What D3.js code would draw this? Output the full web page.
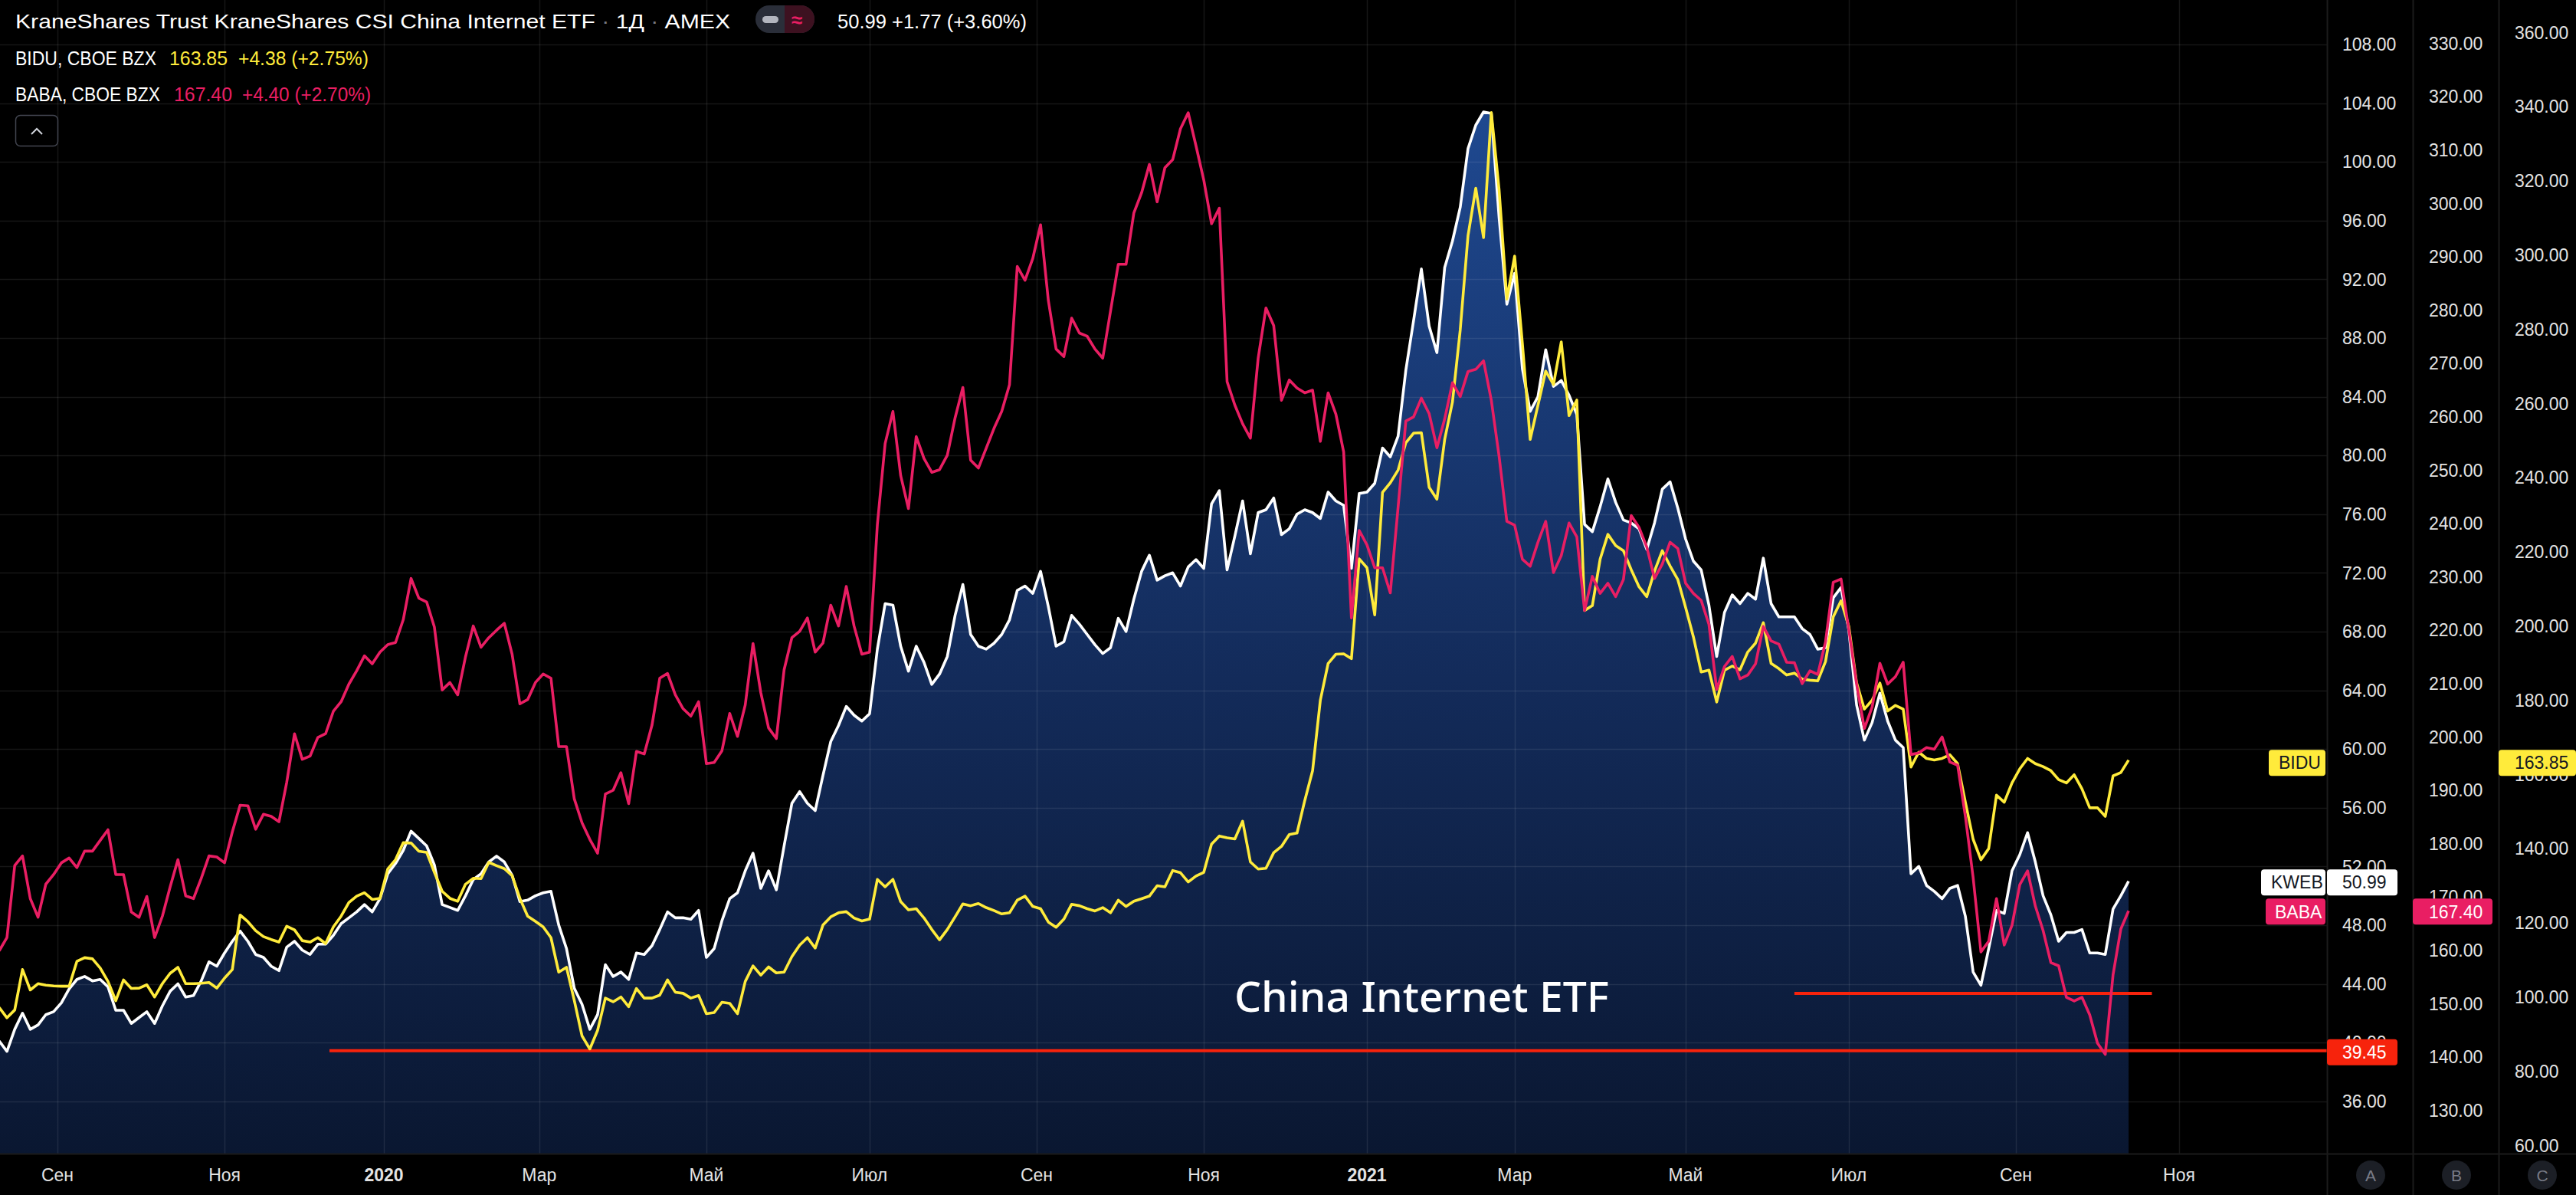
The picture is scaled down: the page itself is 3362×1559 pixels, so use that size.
<!DOCTYPE html>
<html><head><meta charset="utf-8">
<script src="https://cdn.jsdelivr.net/npm/d3@7"></script>
<style>html,body{margin:0;padding:0;background:#000;overflow:hidden}svg{display:block}</style>
</head><body>
<svg id="chart" width="3362" height="1559"></svg>
<script>
// ---------- DATA ----------
const holidays = ["2019-09-02","2019-11-28","2019-12-25","2020-01-01","2020-01-20","2020-02-17","2020-04-10","2020-05-25","2020-07-03","2020-09-07","2020-11-26","2020-12-25","2021-01-01","2021-01-18","2021-02-15","2021-04-02","2021-05-31","2021-07-05","2021-09-06","2021-11-25"];
const sampleStart = "2019-08-12";   // first sample, then every 2nd trading day
const sampleStep = 2;
const calendarEnd = "2021-12-01";

const kweb = [40.1,39.4,40.9,42.0,40.9,41.2,41.9,42.1,42.7,43.65,44.3,44.5,44.2,44.3,43.8,42.2,42.2,41.3,41.7,42.1,
41.3,42.5,43.5,44.0,43.1,43.2,44.2,45.5,45.2,46.1,46.9,47.6,46.9,46.0,45.8,45.2,44.9,46.5,46.9,46.3,
46.0,46.7,46.7,47.3,48.1,48.5,48.9,49.4,48.9,49.8,51.5,52.2,53.1,54.4,53.9,53.4,52.1,49.4,49.2,49.0,
50.0,51.1,51.5,52.3,52.7,52.3,51.4,49.6,49.7,50.0,50.2,50.3,48.0,46.4,43.7,42.6,40.9,41.9,45.3,44.5,
44.8,44.3,46.1,46.0,46.6,47.7,48.9,48.5,48.5,48.4,49.0,45.8,46.4,48.3,49.8,50.2,51.7,52.9,50.5,51.7,
50.4,53.4,56.3,57.1,56.3,55.8,58.2,60.5,61.6,62.9,62.3,61.9,62.4,66.8,69.9,69.8,67.0,65.3,67.0,65.9,
64.4,65.1,66.3,69.1,71.2,67.8,67.0,66.8,67.2,67.8,68.8,70.8,71.1,70.6,72.1,69.7,67.0,67.3,69.1,68.5,
67.8,67.1,66.5,66.9,68.9,68.0,70.2,72.1,73.2,71.5,71.8,72.0,71.1,72.4,72.9,72.3,76.7,77.6,72.2,74.5,
76.9,73.3,76.1,76.3,77.1,74.6,75.0,76.0,76.3,76.1,75.7,77.5,76.9,76.6,72.3,77.4,77.5,78.1,80.5,79.9,
81.3,85.8,89.2,92.7,88.8,87.0,92.8,94.6,96.9,100.9,102.5,103.4,103.3,96.2,90.3,92.4,85.9,83.0,84.0,87.2,
84.7,85.1,84.1,82.8,75.3,74.8,76.5,78.4,76.8,75.6,75.4,75.0,73.6,75.4,77.7,78.2,76.4,74.3,72.8,72.2,
69.8,66.3,69.3,70.5,69.9,70.6,70.2,73.0,69.9,69.0,69.0,69.0,68.2,67.8,66.8,66.9,70.3,71.0,68.1,63.0,
60.6,61.8,63.8,61.9,60.6,60.1,51.5,52.0,50.7,50.3,49.8,50.5,50.7,48.6,44.8,43.9,46.4,49.0,48.8,51.7,
52.8,54.3,52.3,50.0,48.7,46.9,47.5,47.5,47.7,46.1,46.1,46.0,49.1,50.0,50.99];

const bidu = [97.2,94.4,96.5,107.4,101.9,103.6,103.2,103.0,102.9,102.9,109.6,110.6,110.3,107.8,104.2,99.0,104.6,102.3,102.4,103.3,
100.0,103.6,106.4,108.0,103.6,103.6,103.7,103.9,102.4,105.1,107.4,122.1,120.3,117.9,116.3,115.5,114.8,119.1,118.1,115.2,
114.8,116.0,114.4,118.9,121.8,125.5,127.2,128.1,126.3,126.6,134.5,137.0,141.6,141.5,139.3,139.0,133.6,128.5,126.6,125.8,
130.4,132.0,131.9,136.3,135.4,134.6,132.7,126.6,121.8,120.4,118.9,116.0,106.7,108.0,99.1,89.5,86.0,91.0,99.7,98.7,
100.0,97.4,102.3,99.7,99.7,100.5,104.6,101.3,101.0,99.7,100.4,95.5,95.8,98.6,98.3,95.5,104.2,108.4,105.9,108.1,
106.5,106.7,110.9,114.0,116.0,113.2,119.4,121.6,122.7,123.0,121.3,120.5,121.0,131.7,129.7,131.7,125.7,123.5,123.8,121.3,
118.2,115.4,118.2,121.6,125.1,124.6,125.2,124.1,123.3,122.4,122.7,126.1,127.2,124.4,123.8,120.2,118.8,121.0,125.0,124.6,
123.8,123.2,124.1,122.7,126.1,124.4,125.8,126.5,127.2,130.0,129.7,134.1,133.5,131.0,132.6,133.6,141.2,143.4,142.9,142.6,
147.4,136.4,134.5,134.7,138.9,140.6,143.8,144.2,153.0,161.0,180.0,189.9,192.4,192.5,191.2,218.1,215.7,203.0,236.0,238.6,
242.0,249.4,252.0,252.1,237.4,234.2,250.3,260.4,279.8,305.2,318.0,304.7,338.4,317.6,288.1,299.7,276.1,250.3,259.5,268.7,
265.1,276.6,256.7,260.9,204.2,205.5,218.0,224.7,221.7,220.3,215.2,210.6,207.9,214.8,220.3,216.2,212.5,205.0,197.1,187.6,
188.1,179.5,188.1,189.2,188.2,193.0,195.4,200.9,189.9,188.5,186.8,187.3,185.7,185.4,185.2,190.4,202.5,206.8,199.9,184.7,
177.6,180.0,184.6,177.1,178.6,177.6,162.0,166.0,164.3,163.9,164.3,165.3,162.9,152.5,142.5,137.0,140.0,154.4,152.5,157.7,
161.5,164.3,162.9,162.1,161.0,158.6,157.7,159.9,156.1,151.0,151.0,148.7,159.6,160.5,163.85];

const baba = [159.9,162.4,175.9,177.7,169.7,166.2,172.4,174.2,176.4,177.3,175.5,178.6,178.6,180.6,182.6,174.2,174.2,167.2,166.2,170.1,
162.4,166.4,171.9,177.0,170.2,169.7,173.5,177.7,177.5,176.4,182.2,187.2,187.1,182.7,185.5,185.1,184.1,191.5,200.6,195.8,
196.4,199.9,200.6,204.8,206.6,209.9,212.4,215.2,213.7,215.9,217.3,217.7,222.0,229.7,226.0,225.3,220.6,208.8,210.2,207.9,
215.0,220.8,216.8,218.6,220.0,221.3,215.5,206.2,207.0,210.2,211.8,211.0,198.2,198.2,188.4,183.9,180.8,178.2,189.3,190.0,
193.3,187.5,197.3,196.8,202.2,211.0,211.9,207.9,205.3,203.9,206.6,195.0,195.2,197.4,204.4,200.1,206.0,217.5,208.3,201.7,
199.7,212.6,218.6,219.8,222.3,215.9,217.6,224.7,220.8,228.2,220.8,215.5,215.9,239.8,255.0,261.0,249.0,242.8,256.3,252.2,
249.6,250.1,252.8,259.8,265.5,251.9,250.4,254.1,257.8,261.0,266.0,288.2,285.6,289.7,296.0,281.8,272.7,271.3,278.5,275.7,
275.1,272.7,271.0,279.8,288.6,288.6,298.2,302.0,307.3,300.3,306.7,308.2,314.0,317.0,310.8,304.4,296.2,299.1,266.6,262.2,
258.7,256.0,271.0,280.4,277.1,263.1,266.9,265.4,264.5,265.0,255.4,264.5,260.5,253.4,222.3,238.7,236.0,231.7,231.7,227.0,
243.0,259.2,260.0,263.5,260.6,254.2,259.6,266.4,263.8,268.5,268.9,270.5,263.1,252.6,240.4,239.7,233.3,232.0,236.5,240.4,
230.8,234.0,240.1,237.5,223.7,230.1,226.9,228.8,226.3,229.5,241.5,239.3,235.6,229.7,232.4,236.5,235.3,228.8,226.9,225.6,
221.1,208.9,213.2,215.1,210.9,211.6,213.7,220.7,218.0,217.4,214.0,213.9,210.0,212.4,211.7,217.8,229.0,229.6,220.1,209.9,
201.6,205.6,213.8,209.9,211.3,214.0,196.7,197.0,198.0,197.7,200.0,195.3,194.7,185.1,173.6,159.7,161.7,169.7,161.0,164.7,
172.3,174.9,168.3,163.7,157.7,157.1,151.2,150.5,151.2,147.9,142.6,140.5,155.4,164.0,167.40];

const kwebTicks = [36,40,44,48,52,56,60,64,68,72,76,80,84,88,92,96,100,104,108];
const babaTicks = [130,140,150,160,170,180,190,200,210,220,230,240,250,260,270,280,290,300,310,320,330];
const biduTicks = [60,80,100,120,140,160,180,200,220,240,260,280,300,320,340,360];
const monthKeys = ["2019-09","2019-11","2020-01","2020-03","2020-05","2020-07","2020-09","2020-11","2021-01","2021-03","2021-05","2021-07","2021-09","2021-11"];
const monthNames = ["Сен","Ноя","2020","Мар","Май","Июл","Сен","Ноя","2021","Мар","Май","Июл","Сен","Ноя"];
const yearKeys = ["2020-01","2021-01"];
const levelLines = [{value:39.45, from:"2019-12-11", to:null, label:"39.45"},
                    {value:43.35, from:"2021-06-11", to:"2021-10-21", label:null}];

// ---------- SETUP ----------
const W = 3362, H = 1559;
const plotR = 3037, plotB = 1505;
const svg = d3.select("#chart");
const parse = d3.utcParse("%Y-%m-%d"), fmt = d3.utcFormat("%Y-%m-%d");
const hol = new Set(holidays);
const days = d3.utcDays(parse(sampleStart), parse(calendarEnd))
  .filter(d => { const w = d.getUTCDay(); return w > 0 && w < 6 && !hol.has(fmt(d)); });
const idxOf = new Map(days.map((d,i)=>[fmt(d), i]));
const firstOfMonth = key => days.findIndex(d => fmt(d).startsWith(key));

const x = d3.scaleLinear().domain([idxOf.get("2019-09-03"), idxOf.get("2021-09-01")]).range([75, 2631]);
const yA = d3.scaleLinear().domain([36,108]).range([1436.7, 57.9]);
const yB = d3.scaleLinear().domain([130,330]).range([1448.6, 56.6]);
const yC = d3.scaleLinear().domain([60,360]).range([1494.3, 42.3]);

const sampleIdx = kweb.map((_,i)=> i*sampleStep);
const font = "'Liberation Sans', Arial, sans-serif";

svg.append("rect").attr("width",W).attr("height",H).attr("fill","#000");

const defs = svg.append("defs");
defs.append("clipPath").attr("id","plotClip").append("rect").attr("x",0).attr("y",0).attr("width",plotR).attr("height",plotB);
const grad = defs.append("linearGradient").attr("id","areaGrad").attr("gradientUnits","userSpaceOnUse")
  .attr("x1",0).attr("x2",0).attr("y1",130).attr("y2",plotB);
grad.append("stop").attr("offset","0").attr("stop-color","#1f4991");
grad.append("stop").attr("offset","0.55").attr("stop-color","#132b5a");
grad.append("stop").attr("offset","1").attr("stop-color","#0a1731");

const plot = svg.append("g").attr("clip-path","url(#plotClip)");

// area under KWEB
plot.append("path").datum(kweb)
  .attr("d", d3.area().x((d,i)=>x(sampleIdx[i])).y0(plotB).y1(d=>yA(d)))
  .attr("fill","url(#areaGrad)");

// grid
const grid = plot.append("g").attr("stroke","rgba(255,255,255,0.085)").attr("stroke-width",1.5);
grid.selectAll("line.h").data(kwebTicks).join("line")
  .attr("x1",0).attr("x2",plotR).attr("y1",d=>Math.round(yA(d))+0.5).attr("y2",d=>Math.round(yA(d))+0.5);
grid.selectAll("line.v").data(monthKeys).join("line")
  .attr("y1",0).attr("y2",plotB).attr("x1",d=>Math.round(x(firstOfMonth(d)))+0.5).attr("x2",d=>Math.round(x(firstOfMonth(d)))+0.5);

// level lines
plot.selectAll("line.lvl").data(levelLines).join("line")
  .attr("x1",d=>x(idxOf.get(d.from))).attr("x2",d=> d.to ? x(idxOf.get(d.to)) : plotR)
  .attr("y1",d=>yA(d.value)).attr("y2",d=>yA(d.value))
  .attr("stroke","#f7230c").attr("stroke-width",4);

// lines
const mkLine = (scale) => d3.line().x((d,i)=>x(sampleIdx[i])).y(d=>scale(d));
plot.append("path").datum(kweb).attr("d",mkLine(yA)).attr("fill","none").attr("stroke","#ffffff").attr("stroke-width",3.6).attr("stroke-linejoin","round");
plot.append("path").datum(bidu).attr("d",mkLine(yC)).attr("fill","none").attr("stroke","#ffeb3b").attr("stroke-width",3.6).attr("stroke-linejoin","round");
plot.append("path").datum(baba).attr("d",mkLine(yB)).attr("fill","none").attr("stroke","#e91e63").attr("stroke-width",3.6).attr("stroke-linejoin","round");

// annotation text
svg.append("text").attr("x",1611).attr("y",1320).text("China Internet ETF")
  .attr("fill","#ffffff").attr("font-family","'Noto Sans', 'Open Sans', sans-serif").attr("font-weight",500)
  .attr("font-size",55).attr("textLength",489).attr("lengthAdjust","spacingAndGlyphs");

// separators
const sep = svg.append("g").attr("stroke","#1b1b1b").attr("stroke-width",2);
[plotR+0.5, 3149.5, 3261.5].forEach(xx => sep.append("line").attr("x1",xx).attr("x2",xx).attr("y1",0).attr("y2",H));
sep.append("line").attr("x1",0).attr("x2",W).attr("y1",plotB+0.5).attr("y2",plotB+0.5);

// price axes labels
function axisLabels(ticks, scale, xLeft){
  svg.append("g").selectAll("text").data(ticks).join("text")
    .attr("x",xLeft).attr("y",d=>scale(d)).attr("dy","0.36em")
    .attr("fill","#e3e3e3").attr("font-family",font).attr("font-size",23)
    .text(d=>d.toFixed(2));
}
axisLabels(kwebTicks, yA, 3057);
axisLabels(babaTicks, yB, 3170);
axisLabels(biduTicks, yC, 3282);

// time axis labels
svg.append("g").selectAll("text").data(monthKeys).join("text")
  .attr("x",d=>x(firstOfMonth(d))).attr("y",1533).attr("dy","0.36em").attr("text-anchor","middle")
  .attr("fill","#e3e3e3").attr("font-family",font).attr("font-size",23)
  .attr("font-weight",d=> yearKeys.includes(d) ? 700 : 400)
  .text((d,i)=>monthNames[i]);

// value badges
function badge(x0, x1, yc, bg, fg, txt, tx){
  const g = svg.append("g");
  g.append("rect").attr("x",x0).attr("y",yc-16.5).attr("width",x1-x0).attr("height",34).attr("rx",4).attr("fill",bg);
  g.append("text").attr("x",tx).attr("y",yc+0.5).attr("dy","0.36em").attr("fill",fg)
    .attr("font-family",font).attr("font-size",23).text(txt);
}
const lastK = kweb[kweb.length-1], lastB = baba[baba.length-1], lastC = bidu[bidu.length-1];
badge(3037, 3129, yA(lastK)+1, "#ffffff", "#131722", lastK.toFixed(2), 3057);
badge(2951, 3035, yA(lastK)+1, "#ffffff", "#131722", "KWEB", 2964);
badge(3149, 3253, yB(lastB)+0.5, "#e91e63", "#ffffff", lastB.toFixed(2), 3170);
badge(2957, 3035, yB(lastB)+0.5, "#e91e63", "#ffffff", "BABA", 2969);
badge(3261, 3362, yC(lastC)+3, "#ffeb3b", "#131722", lastC.toFixed(2), 3282);
badge(2961, 3035, yC(lastC)+3, "#ffeb3b", "#131722", "BIDU", 2974);
badge(3037, 3129, yA(levelLines[0].value)+1.5, "#f7230c", "#ffffff", levelLines[0].label, 3057);

// A B C buttons
[["A",3094],["B",3206],["C",3318]].forEach(([t,cx])=>{
  svg.append("circle").attr("cx",cx).attr("cy",1533).attr("r",19).attr("fill","#1c1f26");
  svg.append("text").attr("x",cx).attr("y",1533).attr("dy","0.36em").attr("text-anchor","middle")
    .attr("fill","#787b86").attr("font-family",font).attr("font-size",21).text(t);
});

// legend / title
const title = svg.append("text").attr("x",20).attr("y",37).attr("font-family",font).attr("font-size",26)
  .attr("fill","#ffffff").attr("textLength",933).attr("lengthAdjust","spacingAndGlyphs");
title.append("tspan").text("KraneShares Trust KraneShares CSI China Internet ETF ");
title.append("tspan").attr("fill","#787b86").text("·");
title.append("tspan").text(" 1Д ");
title.append("tspan").attr("fill","#787b86").text("·");
title.append("tspan").text(" AMEX");

// status pill
svg.append("rect").attr("x",986).attr("y",7).attr("width",77).attr("height",36).attr("rx",18).attr("fill","#2a2e39");
svg.append("path").attr("d","M1024,7 H1045 A18,18 0 0 1 1045,43 H1024 Z").attr("fill","#3d1120");
svg.append("rect").attr("x",995).attr("y",21).attr("width",21).attr("height",9).attr("rx",4.5).attr("fill","#b2b5be");
svg.append("text").attr("x",1040).attr("y",26).attr("dy","0.36em").attr("text-anchor","middle").attr("fill","#e91e63")
  .attr("font-family",font).attr("font-size",26).attr("font-weight",700).text("≈");
svg.append("text").attr("x",1093).attr("y",37).attr("font-family",font).attr("font-size",26).attr("fill","#ffffff")
  .attr("textLength",247).attr("lengthAdjust","spacingAndGlyphs").text("50.99  +1.77 (+3.60%)");

function legendLine(y, name, w1, x2, val, w2, x3, chg, w3, color){
  svg.append("text").attr("x",20).attr("y",y).attr("font-family",font).attr("font-size",26).attr("fill","#ffffff")
    .attr("textLength",w1).attr("lengthAdjust","spacingAndGlyphs").text(name);
  svg.append("text").attr("x",x2).attr("y",y).attr("font-family",font).attr("font-size",26).attr("fill",color)
    .attr("textLength",w2).attr("lengthAdjust","spacingAndGlyphs").text(val);
  svg.append("text").attr("x",x3).attr("y",y).attr("font-family",font).attr("font-size",26).attr("fill",color)
    .attr("textLength",w3).attr("lengthAdjust","spacingAndGlyphs").text(chg);
}
legendLine(85, "BIDU, CBOE BZX", 184, 221, bidu[bidu.length-1].toFixed(2), 76, 311, "+4.38 (+2.75%)", 170, "#ffeb3b");
legendLine(132, "BABA, CBOE BZX", 189, 227, baba[baba.length-1].toFixed(2), 76, 316, "+4.40 (+2.70%)", 168, "#e91e63");

// collapse button
svg.append("rect").attr("x",20.5).attr("y",150.5).attr("width",55).attr("height",40).attr("rx",6)
  .attr("fill","#000").attr("stroke","#434651").attr("stroke-width",1.5);
svg.append("path").attr("d","M41,175 L48,168 L55,175").attr("fill","none").attr("stroke","#d1d4dc").attr("stroke-width",2);
</script>
</body></html>
